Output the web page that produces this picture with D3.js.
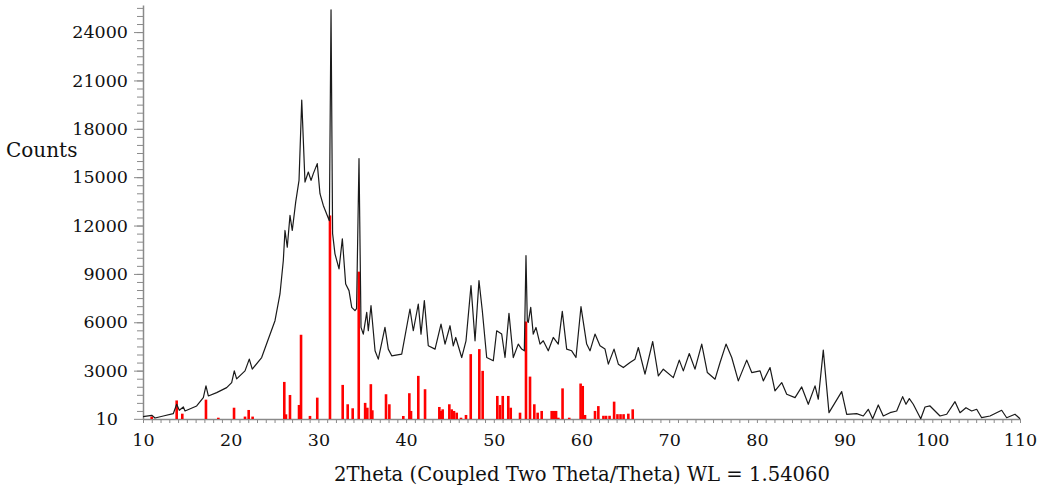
<!DOCTYPE html>
<html>
<head>
<meta charset="utf-8">
<script src="https://cdn.jsdelivr.net/npm/d3@7/dist/d3.min.js"></script>
<style>
  body { margin: 0; background: #fff; }
  svg { display: block; font-family: "DejaVu Serif", serif; }
</style>
</head>
<body>
<svg width="1048" height="492"></svg>
<script>
// measured scan (2Theta, counts)
var twoTheta = [10.0, 11.0, 11.37, 12.31, 13.45, 13.84, 14.14, 14.6, 14.79, 16.12, 16.88, 17.18, 17.45, 18.4, 19.54,
  20.11, 20.41, 20.68, 21.63, 22.12, 22.46, 23.53, 24.22, 25.05, 25.62, 26.0, 26.19, 26.45, 26.76, 27.02,
  27.41, 27.79, 28.1, 28.47, 28.85, 29.16, 29.42, 29.87, 30.18, 30.56, 31.01, 31.25, 31.44, 31.62, 31.89,
  32.35, 32.73, 33.11, 33.49, 33.8, 34.17, 34.35, 34.63, 34.86, 35.12, 35.51, 35.69, 36.0, 36.46, 36.83,
  37.59, 37.97, 38.36, 39.5, 40.44, 40.82, 41.39, 41.7, 42.08, 42.53, 43.3, 43.98, 44.44, 45.01, 45.38,
  45.66, 46.34, 46.83, 47.4, 47.86, 48.31, 48.69, 49.19, 49.94, 50.33, 50.9, 51.28, 51.73, 52.22, 52.79,
  53.18, 53.48, 53.67, 53.82, 53.93, 54.21, 54.5, 54.81, 55.27, 55.64, 56.21, 56.78, 57.35, 57.81, 58.31,
  58.88, 59.37, 59.94, 60.59, 60.97, 61.54, 62.11, 62.68, 63.06, 63.71, 64.2, 64.77, 65.53, 66.1, 66.48,
  67.24, 68.12, 68.76, 69.33, 70.47, 71.15, 71.61, 72.29, 72.94, 73.71, 74.35, 75.23, 75.8, 76.48, 77.13,
  77.88, 78.84, 79.41, 80.36, 80.73, 81.5, 82.06, 82.83, 83.4, 84.35, 85.11, 85.86, 86.63, 87.0, 87.57,
  88.22, 89.67, 90.24, 91.38, 92.13, 92.7, 93.2, 93.84, 94.41, 95.18, 95.94, 96.62, 97.0, 97.38, 97.83,
  98.68, 99.17, 99.74, 100.31, 100.88, 101.64, 102.59, 103.16, 103.84, 104.49, 105.06, 105.63, 106.58, 107.91, 108.48,
  109.43, 110.0];
var counts = [150, 230, 60, 187, 330, 914, 541, 746, 498, 809, 1325, 2053, 1430, 1636, 1947,
  2258, 2986, 2488, 2986, 3713, 3091, 3813, 4852, 6096, 7756, 9828, 11694, 10655, 12627, 11694,
  13454, 14804, 19780, 14698, 15320, 14804, 15220, 15842, 13976, 13249, 12627, 12300, 25378, 11500, 10244,
  9311, 11177, 8378, 7962, 6923, 6718, 6842, 16153, 5680, 5268, 6612, 5474, 7029, 4230, 3713,
  5679, 4335, 3919, 4024, 6823, 5474, 7134, 5268, 7340, 4541, 4335, 5890, 4646, 5785, 4541,
  5057, 3813, 4852, 8273, 4852, 8584, 6718, 3813, 3608, 5474, 5268, 3813, 6550, 3813, 4646,
  4335, 4230, 10139, 6100, 5990, 6923, 5268, 5679, 4646, 4852, 4230, 5057, 4646, 6674, 4335,
  4230, 3813, 6966, 4646, 4230, 5268, 4541, 4335, 3402, 4335, 3402, 3191, 3502, 3713, 4435,
  2780, 4808, 2675, 3091, 2569, 3651, 2986, 4062, 3091, 4646, 2880, 2469, 3502, 4646, 3813,
  2364, 3651, 2880, 2986, 2364, 3191, 1742, 2258, 1536, 1325, 1990, 914, 2053, 1225, 4273,
  392, 1698, 292, 330, 187, 603, 20, 871, 187, 392, 498, 1387, 914, 1263, 914,
  20, 746, 809, 498, 187, 292, 1076, 392, 703, 498, 603, 80, 187, 541, 80,
  292, 20];

// reference pattern sticks
var stickPos = [10.99, 13.84, 14.48, 17.18, 18.59, 20.38, 21.63, 22.05, 22.5, 26.11, 26.3, 26.76, 27.79, 28.02,
  29.04, 29.87, 31.32, 32.77, 33.34, 33.91, 34.6, 35.33, 35.58, 35.98, 36.15, 37.71, 38.09, 39.68, 40.37,
  40.56, 41.39, 42.16, 43.79, 43.98, 44.17, 44.93, 45.2, 45.46, 45.77, 46.26, 46.83, 47.37, 48.35, 48.73,
  50.4, 50.71, 51.02, 51.65, 51.93, 52.99, 53.67, 54.13, 54.62, 55.0, 55.46, 56.6, 56.85, 57.1, 57.36,
  57.84, 58.6, 59.9, 60.14, 60.4, 61.54, 61.92, 62.5, 62.8, 63.2, 63.72, 64.1, 64.45, 64.8, 65.34, 65.84];
var stickInt = [150, 1150, 330, 1200, 80, 700, 150, 560, 150, 2300, 290, 1490, 870, 5225,
  190, 1325, 12627, 2115, 914, 665, 9140, 1000, 700, 2160, 540, 1536, 914, 187, 1600,
  500, 2675, 1847, 746, 500, 600, 914, 600, 500, 392, 80, 250, 4024, 4335, 2986,
  1430, 870, 1430, 1430, 700, 392, 6050, 2630, 914, 392, 500, 500, 500, 500, 80,
  1900, 80, 2200, 2050, 250, 500, 800, 200, 200, 200, 1076, 300, 300, 300, 330, 600];

var xLabels = [10, 20, 30, 40, 50, 60, 70, 80, 90, 100, 110];
var yLabels = [10, 3000, 6000, 9000, 12000, 15000, 18000, 21000, 24000];

var svg = d3.select('svg');
var axisColor = '#8a8a8a';

var x = d3.scaleLinear().domain([10, 110]).range([143, 1020]);
var y = d3.scaleLinear().domain([0, 25680]).range([419, 5]);

// x axis: small ticks every degree
var xMinor = svg.append('g')
  .attr('transform', 'translate(0,419)')
  .call(d3.axisBottom(x).tickValues(d3.range(10, 111, 1)).tickFormat('').tickSize(4).tickSizeOuter(0));
xMinor.select('.domain').attr('stroke', axisColor).attr('stroke-width', 1.5);
xMinor.selectAll('.tick line').attr('stroke', axisColor);

var xMajor = svg.append('g')
  .attr('transform', 'translate(0,419)')
  .call(d3.axisBottom(x).tickValues(xLabels).tickFormat(d3.format('d')).tickSize(0).tickPadding(15));
xMajor.select('.domain').remove();
xMajor.selectAll('text').attr('font-size', 17.5).attr('fill', '#111').attr('font-family', '"DejaVu Serif", serif');

// y axis
var yMinor = svg.append('g')
  .attr('transform', 'translate(143,0)')
  .call(d3.axisLeft(y).tickValues(d3.range(500, 25600, 500)).tickFormat('').tickSize(6).tickSizeOuter(0));
yMinor.select('.domain').attr('stroke', axisColor).attr('stroke-width', 1.5);
yMinor.selectAll('.tick line').attr('stroke', axisColor);

var yMajor = svg.append('g')
  .attr('transform', 'translate(143,0)')
  .call(d3.axisLeft(y).tickValues(yLabels).tickFormat(d3.format('d')).tickSize(9).tickPadding(6));
yMajor.select('.domain').remove();
yMajor.selectAll('.tick line').attr('stroke', axisColor);
yMajor.selectAll('text').attr('font-size', 17.5).attr('fill', '#111').attr('font-family', '"DejaVu Serif", serif');
// the "10" label sits a little further left
yMajor.selectAll('.tick').filter(function(d) { return d === 10; }).select('text').attr('x', -25);

// sticks
svg.append('g').selectAll('rect')
  .data(stickPos)
  .join('rect')
  .attr('x', function(d) { return x(d) - 1.3; })
  .attr('width', 2.6)
  .attr('y', function(d, i) { return y(stickInt[i]); })
  .attr('height', function(d, i) { return y(0) - y(stickInt[i]); })
  .attr('fill', '#ff0000');

// scan
var line = d3.line()
  .x(function(d) { return x(d); })
  .y(function(d, i) { return y(counts[i]); });

svg.append('path')
  .datum(twoTheta)
  .attr('d', line)
  .attr('fill', 'none')
  .attr('stroke', '#1a1a1a')
  .attr('stroke-width', 1.2)
  .attr('stroke-linejoin', 'round');

// titles
svg.append('text')
  .attr('x', 6).attr('y', 157)
  .attr('font-size', 20)
  .attr('fill', '#111')
  .text('Counts');

svg.append('text')
  .attr('x', 334).attr('y', 481)
  .attr('font-size', 20)
  .attr('fill', '#111')
  .attr('textLength', 496)
  .attr('lengthAdjust', 'spacingAndGlyphs')
  .text('2Theta (Coupled Two Theta/Theta) WL = 1.54060');
</script>
</body>
</html>
